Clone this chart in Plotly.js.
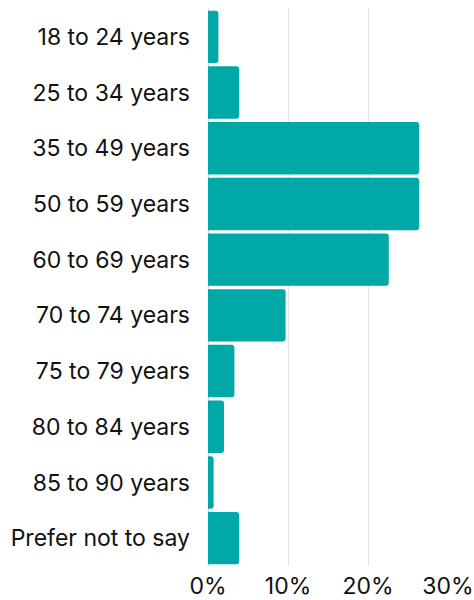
<!DOCTYPE html>
<html>
<head>
<meta charset="utf-8">
<script src="https://cdn.plot.ly/plotly-3.0.1.min.js"></script>
<style>
  html, body { margin: 0; padding: 0; background: #fff; }
  #chart { width: 474px; height: 600px; }
</style>
</head>
<body>
<div id="chart"></div>
<script>
// age groups, top to bottom
let ageGroups = ["18 to 24 years", "25 to 34 years", "35 to 49 years", "50 to 59 years",
  "60 to 69 years", "70 to 74 years", "75 to 79 years", "80 to 84 years",
  "85 to 90 years", "Prefer not to say"];
// share of respondents, %
let shares = [1.3, 3.9, 26.4, 26.4, 22.6, 9.7, 3.3, 2.0, 0.7, 3.9];
let xTicks = [0, 10, 20, 30];
let xTickText = ["0%", "10%", "20%", "30%"];

let teal = "#00A8A8";

let bars = {
  type: "bar",
  orientation: "h",
  x: shares,
  y: ageGroups,
  marker: { color: teal, cornerradius: 3, line: { width: 0 } },
  hoverinfo: "x+y"
};

let layout = {
  width: 474,
  height: 600,
  margin: { l: 208, r: 26, t: 9, b: 34, pad: 0 },
  paper_bgcolor: "#fff",
  plot_bgcolor: "#fff",
  bargap: 0.06,
  showlegend: false,
  font: { family: "Inter, 'Liberation Sans', sans-serif", size: 23, color: "#111" },
  xaxis: {
    range: [0, 30],
    tickvals: xTicks,
    ticktext: xTickText,
    tickfont: { size: 23 },
    showgrid: true,
    gridcolor: "#e3e3e3",
    gridwidth: 1,
    zeroline: true,
    zerolinecolor: "#d0d0d0",
    zerolinewidth: 1,
    showline: false,
    ticks: "",
    ticklabelstandoff: 4,
    fixedrange: true
  },
  yaxis: {
    autorange: "reversed",
    type: "category",
    showgrid: false,
    showline: false,
    zeroline: false,
    ticks: "",
    ticklabelstandoff: 17,
    fixedrange: true
  }
};

Plotly.newPlot("chart", [bars], layout, { displayModeBar: false, staticPlot: true });
</script>
</body>
</html>
